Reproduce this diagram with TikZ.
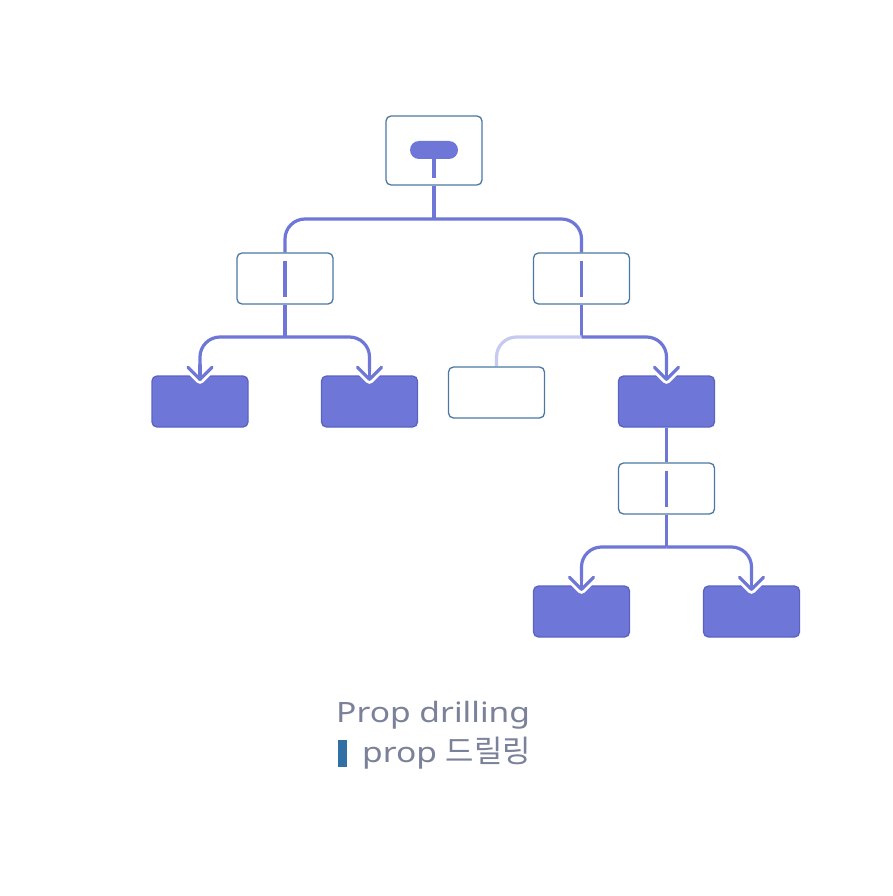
\documentclass[tikz,border=0pt]{standalone}
\usepackage{fontspec}
\setmainfont{Noto Sans}
\newfontfamily\latinw[FakeStretch=1.2]{Noto Sans}
\newfontfamily\kr[Scale=1.1]{Noto Sans CJK KR}
\usetikzlibrary{calc}
\definecolor{pur}{HTML}{6E77D7}
\definecolor{faded}{HTML}{C7CAF0}
\definecolor{bord}{HTML}{4B78A0}
\definecolor{fbord}{HTML}{5B63C2}
\definecolor{txt}{HTML}{7A8199}
\definecolor{barc}{HTML}{3070A5}
\pgfdeclarelayer{bgfill}
\pgfdeclarelayer{lines}
\pgfdeclarelayer{front}
\pgfsetlayers{bgfill,lines,main,front}
\tikzset{
  wbox/.style={draw=bord, line width=1.3pt, fill=white, rounded corners=5pt,
    minimum width=96pt, minimum height=51pt, inner sep=0pt},
  fbox/.style={draw=fbord, line width=1.3pt, fill=pur, rounded corners=5pt,
    minimum width=96pt, minimum height=51pt, inner sep=0pt},
  conn/.style={draw=pur, line width=3.2pt},
  fconn/.style={draw=faded, line width=3.2pt},
  halo/.style={draw=white, line width=9pt, line cap=round, line join=round},
  chevline/.style={draw=pur, line width=3.2pt, line cap=round, line join=round},
  rc/.style={rounded corners=20pt},
  txtstyle/.style={text=txt, font=\fontsize{28}{34}\selectfont, inner sep=0pt}
}
\newcommand\mychev[1]{%
  \draw[halo] ($(#1)+(-12,-12)$) -- (#1) -- ($(#1)+(12,-12)$);
  \draw[chevline] ($(#1)+(-12,-12)$) -- (#1) -- ($(#1)+(12,-12)$);
  \draw[chevline] ($(#1)+(0,-14)$) -- (#1);
}
\begin{document}
\begin{tikzpicture}[x=1pt,y=-1pt]
\useasboundingbox (0,0) rectangle (892,896);
\begin{pgfonlayer}{bgfill}
\fill[white] (0,0) rectangle (892,896);
\end{pgfonlayer}

% boxes
\node[wbox, minimum height=69pt] (top) at (434,150.5) {};
\node[fill=pur, rounded corners=9pt, minimum width=48pt, minimum height=18pt, inner sep=0pt] (pill) at (434,150) {};
\node[wbox] (mL) at (285,278.5) {};
\node[wbox] (mR) at (581.5,278.5) {};
\node[fbox] (b1) at (200,401.5) {};
\node[fbox] (b2) at (369.5,401.5) {};
\node[wbox] (w) at (496.5,392.5) {};
\node[fbox] (b3) at (666.5,401.5) {};
\node[wbox] (m3) at (666.5,488.5) {};
\node[fbox] (b4) at (581.5,611.5) {};
\node[fbox] (b5) at (751.5,611.5) {};

% junctions and arrow tips
\coordinate (j1) at (434,219);
\coordinate (j2) at (285,337);
\coordinate (j3) at (581.5,337);
\coordinate (j4) at (666.5,547);
\coordinate (t1) at ($(b1.north)+(0,4)$);
\coordinate (t2) at ($(b2.north)+(0,4)$);
\coordinate (t3) at ($(b3.north)+(0,4)$);
\coordinate (t4) at ($(b4.north)+(0,4)$);
\coordinate (t5) at ($(b5.north)+(0,4)$);

\begin{pgfonlayer}{lines}
\draw[conn] (top.south) -- (j1);
\draw[conn, rc] (j1) -| (mL.north);
\draw[conn, rc] (j1) -| (mR.north);
\draw[conn] (mL.south) -- (j2);
\draw[conn, rc] (j2) -| (t1);
\draw[conn, rc] (j2) -| (t2);
\draw[conn] (mR.south) -- (j3);
\draw[fconn, rc] (j3) -| (w.north);
\draw[conn, rc] (j3) -| (t3);
\draw[conn] (b3.south) -- (m3.north);
\draw[conn] (m3.south) -- (j4);
\draw[conn, rc] (j4) -| (t4);
\draw[conn, rc] (j4) -| (t5);
\end{pgfonlayer}

\begin{pgfonlayer}{front}
\draw[conn] (pill.south) -- ($(pill.south)+(0,19)$);
\draw[conn] ($(mL.center)+(0,-18)$) -- ($(mL.center)+(0,18)$);
\draw[conn] ($(mR.center)+(0,-18)$) -- ($(mR.center)+(0,18)$);
\draw[conn] ($(m3.center)+(0,-18)$) -- ($(m3.center)+(0,18)$);
\mychev{t1}
\mychev{t2}
\mychev{t3}
\mychev{t4}
\mychev{t5}
\end{pgfonlayer}

% caption
\node[txtstyle, anchor=base west] (cap1) at (336,722) {\latinw Prop drilling};
\node[fill=barc, minimum width=9pt, minimum height=27pt, inner sep=0pt, anchor=north west] (bar) at (338,740) {};
\node[txtstyle, anchor=base west] (cap2) at (362,762) {\latinw prop \kr 드릴링};
\end{tikzpicture}
\end{document}
